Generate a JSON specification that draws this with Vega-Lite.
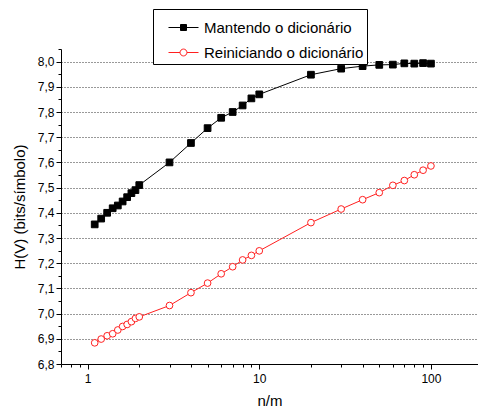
{
  "$schema": "https://vega.github.io/schema/vega-lite/v6.json",
  "width": 417,
  "height": 315,
  "autosize": "none",
  "padding": {"left": 61, "top": 49, "right": 0, "bottom": 45},
  "background": "white",
  "config": {
    "view": {"stroke": null},
    "font": "Liberation Sans",
    "axis": {"labelFont": "Liberation Sans", "titleFont": "Liberation Sans", "labelColor": "black", "titleColor": "black", "domainColor": "black", "tickColor": "black", "titleFontWeight": "normal"}
  },
  "data": {
    "values": [
      {"x": 1.1, "y": 7.354, "s": "Mantendo o dicionário"},
      {"x": 1.2, "y": 7.377, "s": "Mantendo o dicionário"},
      {"x": 1.3, "y": 7.400, "s": "Mantendo o dicionário"},
      {"x": 1.4, "y": 7.418, "s": "Mantendo o dicionário"},
      {"x": 1.5, "y": 7.429, "s": "Mantendo o dicionário"},
      {"x": 1.6, "y": 7.445, "s": "Mantendo o dicionário"},
      {"x": 1.7, "y": 7.462, "s": "Mantendo o dicionário"},
      {"x": 1.8, "y": 7.478, "s": "Mantendo o dicionário"},
      {"x": 1.9, "y": 7.490, "s": "Mantendo o dicionário"},
      {"x": 2, "y": 7.510, "s": "Mantendo o dicionário"},
      {"x": 3, "y": 7.600, "s": "Mantendo o dicionário"},
      {"x": 4, "y": 7.677, "s": "Mantendo o dicionário"},
      {"x": 5, "y": 7.736, "s": "Mantendo o dicionário"},
      {"x": 6, "y": 7.777, "s": "Mantendo o dicionário"},
      {"x": 7, "y": 7.800, "s": "Mantendo o dicionário"},
      {"x": 8, "y": 7.826, "s": "Mantendo o dicionário"},
      {"x": 9, "y": 7.854, "s": "Mantendo o dicionário"},
      {"x": 10, "y": 7.870, "s": "Mantendo o dicionário"},
      {"x": 20, "y": 7.948, "s": "Mantendo o dicionário"},
      {"x": 30, "y": 7.972, "s": "Mantendo o dicionário"},
      {"x": 40, "y": 7.982, "s": "Mantendo o dicionário"},
      {"x": 50, "y": 7.987, "s": "Mantendo o dicionário"},
      {"x": 60, "y": 7.988, "s": "Mantendo o dicionário"},
      {"x": 70, "y": 7.993, "s": "Mantendo o dicionário"},
      {"x": 80, "y": 7.992, "s": "Mantendo o dicionário"},
      {"x": 90, "y": 7.994, "s": "Mantendo o dicionário"},
      {"x": 100, "y": 7.992, "s": "Mantendo o dicionário"},
      {"x": 1.1, "y": 6.884, "s": "Reiniciando o dicionário"},
      {"x": 1.2, "y": 6.899, "s": "Reiniciando o dicionário"},
      {"x": 1.3, "y": 6.912, "s": "Reiniciando o dicionário"},
      {"x": 1.4, "y": 6.920, "s": "Reiniciando o dicionário"},
      {"x": 1.5, "y": 6.935, "s": "Reiniciando o dicionário"},
      {"x": 1.6, "y": 6.949, "s": "Reiniciando o dicionário"},
      {"x": 1.7, "y": 6.957, "s": "Reiniciando o dicionário"},
      {"x": 1.8, "y": 6.968, "s": "Reiniciando o dicionário"},
      {"x": 1.9, "y": 6.981, "s": "Reiniciando o dicionário"},
      {"x": 2, "y": 6.987, "s": "Reiniciando o dicionário"},
      {"x": 3, "y": 7.032, "s": "Reiniciando o dicionário"},
      {"x": 4, "y": 7.083, "s": "Reiniciando o dicionário"},
      {"x": 5, "y": 7.121, "s": "Reiniciando o dicionário"},
      {"x": 6, "y": 7.158, "s": "Reiniciando o dicionário"},
      {"x": 7, "y": 7.186, "s": "Reiniciando o dicionário"},
      {"x": 8, "y": 7.213, "s": "Reiniciando o dicionário"},
      {"x": 9, "y": 7.231, "s": "Reiniciando o dicionário"},
      {"x": 10, "y": 7.249, "s": "Reiniciando o dicionário"},
      {"x": 20, "y": 7.361, "s": "Reiniciando o dicionário"},
      {"x": 30, "y": 7.415, "s": "Reiniciando o dicionário"},
      {"x": 40, "y": 7.452, "s": "Reiniciando o dicionário"},
      {"x": 50, "y": 7.480, "s": "Reiniciando o dicionário"},
      {"x": 60, "y": 7.509, "s": "Reiniciando o dicionário"},
      {"x": 70, "y": 7.528, "s": "Reiniciando o dicionário"},
      {"x": 80, "y": 7.551, "s": "Reiniciando o dicionário"},
      {"x": 90, "y": 7.569, "s": "Reiniciando o dicionário"},
      {"x": 100, "y": 7.586, "s": "Reiniciando o dicionário"}
    ]
  },
  "layer": [
    {
      "mark": {"type": "line", "strokeWidth": 1},
      "encoding": {
        "x": {"field": "x", "type": "quantitative", "scale": {"type": "log", "domain": [0.7, 188], "nice": false},
          "axis": {"orient": "bottom", "tickCount": 200, "values": [0.7, 0.8, 0.9, 1, 2, 3, 4, 5, 6, 7, 8, 9, 10, 20, 30, 40, 50, 60, 70, 80, 90, 100],
            "labelExpr": "indexof([1, 10, 100], datum.value) >= 0 ? format(datum.value, 'd') : ''",
            "tickSize": {"condition": {"test": "indexof([1, 10, 100], datum.value) >= 0", "value": 5}, "value": 3},
            "grid": false, "labelFontSize": 12, "labelPadding": 4, "title": "n/m", "titleFontSize": 15, "titlePadding": 9, "labelFlush": false, "labelOverlap": false}},
        "y": {"field": "y", "type": "quantitative", "scale": {"domain": [6.8, 8.05], "nice": false, "zero": false},
          "axis": {"orient": "left", "tickCount": 200, "values": [6.8, 6.85, 6.9, 6.95, 7.0, 7.05, 7.1, 7.15, 7.2, 7.25, 7.3, 7.35, 7.4, 7.45, 7.5, 7.55, 7.6, 7.65, 7.7, 7.75, 7.8, 7.85, 7.9, 7.95, 8.0, 8.05],
            "labelExpr": "abs(datum.value * 10 - round(datum.value * 10)) > 0.01 ? '' : replace(format(datum.value, '.1f'), '.', ',')",
            "tickSize": {"condition": {"test": "abs(datum.value * 10 - round(datum.value * 10)) > 0.01", "value": 3}, "value": 5},
            "gridOpacity": {"condition": {"test": "abs(datum.value * 10 - round(datum.value * 10)) > 0.01 || datum.value < 6.85", "value": 0}, "value": 1},
            "labelFontSize": 12, "labelPadding": 2, "title": "H(V) (bits/símbolo)", "titleFontSize": 15, "titlePadding": 10, "grid": true, "gridColor": "#333333", "gridDash": [1, 2], "gridWidth": 1, "labelFlush": false, "labelOverlap": false}},
        "stroke": {"field": "s", "type": "nominal", "scale": {"domain": ["Mantendo o dicionário", "Reiniciando o dicionário"], "range": ["black", "#ff2020"]},
          "legend": {"orient": "none", "legendX": 92, "legendY": -40, "title": null, "strokeColor": "black", "fillColor": "white", "padding": 3, "labelFont": "Liberation Sans", "labelFontSize": 15, "labelColor": "black", "symbolSize": 900, "symbolStrokeWidth": 1, "symbolOffset": 12, "labelOffset": 5, "rowPadding": 1, "symbolOpacity": 1}}
      }
    },
    {
      "mark": {"type": "point", "filled": true, "opacity": 1, "strokeWidth": 1},
      "encoding": {
        "x": {"field": "x", "type": "quantitative"},
        "y": {"field": "y", "type": "quantitative"},
        "stroke": {"field": "s", "type": "nominal"},
        "fill": {"field": "s", "type": "nominal", "scale": {"domain": ["Mantendo o dicionário", "Reiniciando o dicionário"], "range": ["black", "white"]}},
        "shape": {"condition": {"test": "datum.s === 'Mantendo o dicionário'", "value": "square"}, "value": "circle"},
        "size": {"value": 45}
      }
    },
    {
      "transform": [{"filter": "false"}],
      "mark": {"type": "point", "filled": true, "opacity": 1, "strokeWidth": 1},
      "encoding": {
        "x": {"field": "x", "type": "quantitative"},
        "y": {"field": "y", "type": "quantitative"},
        "stroke": {"field": "s", "type": "nominal"},
        "fill": {"field": "s", "type": "nominal"},
        "shape": {"field": "s", "type": "nominal", "scale": {"domain": ["Mantendo o dicionário", "Reiniciando o dicionário"], "range": ["M-1,0H-0.2M0.2,0H1M-0.2,-0.2H0.2V0.2H-0.2Z", "M-1,0H-0.23M0.23,0H1M0.23,0A0.23,0.23,0,1,1,-0.23,0A0.23,0.23,0,1,1,0.23,0Z"]}}
      }
    }
  ]
}
